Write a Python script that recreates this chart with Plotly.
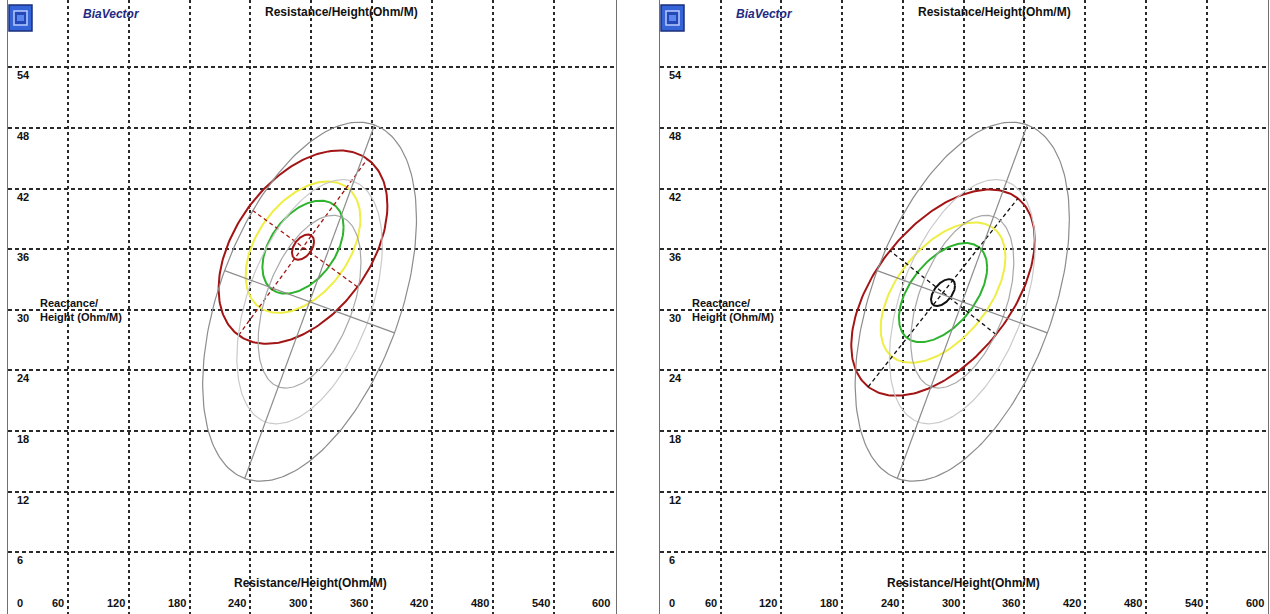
import numpy as np
import plotly.graph_objects as go

# ---------------- data ----------------
# Reference population (gray tolerance ellipses) - identical in both panels
REF_MEAN_R = 298.6
REF_MEAN_XC = 30.8
REF_SD_R = 43.2
REF_SD_XC = 7.26
REF_CORR = 0.46

# Sample groups (coloured ellipses), one per panel: [left, right]
GROUP_MEAN_R = [292.1, 279.6]
GROUP_MEAN_XC = [36.2, 31.7]
GROUP_SD_R = [34.1, 37.0]
GROUP_SD_XC = [3.91, 4.17]
GROUP_CORR = [0.43, 0.51]
GROUP_MEAN_CONF_RADIUS = [0.32, 0.32]   # confidence ellipse of the mean, in SD units
MEAN_COLORS = ["#a31515", "#111111"]

TOLERANCE_LEVELS = [0.95, 0.75, 0.50]
REF_COLORS = ["#8c8c8c", "#cacaca", "#a8a8a8"]
GROUP_COLORS = ["#a31515", "#eeee44", "#2db32d"]

X_GRID = [60, 120, 180, 240, 300, 360, 420, 480, 540]
Y_GRID = [6, 12, 18, 24, 30, 36, 42, 48, 54]
X_TICK_LABELS = ["0", "60", "120", "180", "240", "300", "360", "420", "480", "540", "600"]
X_TICK_VALUES = [0, 60, 120, 180, 240, 300, 360, 420, 480, 540, 600]
Y_TICK_LABELS = ["6", "12", "18", "24", "30", "36", "42", "48", "54"]
Y_TICK_VALUES = [6, 12, 18, 24, 30, 36, 42, 48, 54]

AXIS_TITLE = "Resistance/Height(Ohm/M)"
Y_TITLE = "Reactance/<br>Height (Ohm/M)"
BRAND = "BiaVector"

# ---------------- helpers ----------------
DISPLAY_SCALE = 10.0  # y units are displayed ~10x larger than x units


def ellipse(mx, my, sx, sy, r, k, n=200):
    t = np.linspace(0, 2 * np.pi, n)
    x = mx + k * sx * np.cos(t)
    y = my + k * sy * (r * np.cos(t) + np.sqrt(1 - r * r) * np.sin(t))
    return x, y


def axes_segments(mx, my, sx, sy, r, k):
    S = DISPLAY_SCALE
    cov = np.array([[sx * sx, r * sx * sy * S], [r * sx * sy * S, (sy * S) ** 2]])
    vals, vecs = np.linalg.eigh(cov)
    segs = []
    for i in range(2):
        v = vecs[:, i] * k * np.sqrt(vals[i])
        segs.append(([mx - v[0], mx + v[0]], [my - v[1] / S, my + v[1] / S]))
    return segs


def radius(p):
    return np.sqrt(-2 * np.log(1 - p))


fig = go.Figure()
axis_ids = [("x", "y"), ("x2", "y2")]

for g in range(2):
    xa, ya = axis_ids[g]
    # coloured tolerance ellipses of the group
    for lvl, col in zip(TOLERANCE_LEVELS, GROUP_COLORS):
        ex, ey = ellipse(GROUP_MEAN_R[g], GROUP_MEAN_XC[g], GROUP_SD_R[g], GROUP_SD_XC[g],
                         GROUP_CORR[g], radius(lvl))
        fig.add_trace(go.Scatter(x=ex, y=ey, mode="lines", line=dict(color=col, width=2),
                                 xaxis=xa, yaxis=ya, hoverinfo="skip"))
    # dashed axes of the group 95% ellipse
    for sx_, sy_ in axes_segments(GROUP_MEAN_R[g], GROUP_MEAN_XC[g], GROUP_SD_R[g],
                                  GROUP_SD_XC[g], GROUP_CORR[g], radius(0.95)):
        fig.add_trace(go.Scatter(x=sx_, y=sy_, mode="lines",
                                 line=dict(color=MEAN_COLORS[g], width=1.3, dash="4px,3px"),
                                 xaxis=xa, yaxis=ya, hoverinfo="skip"))
    # confidence ellipse of the mean
    ex, ey = ellipse(GROUP_MEAN_R[g], GROUP_MEAN_XC[g], GROUP_SD_R[g], GROUP_SD_XC[g],
                     GROUP_CORR[g], GROUP_MEAN_CONF_RADIUS[g])
    fig.add_trace(go.Scatter(x=ex, y=ey, mode="lines", line=dict(color=MEAN_COLORS[g], width=2),
                             xaxis=xa, yaxis=ya, hoverinfo="skip"))
    # reference gray ellipses
    for lvl, col in zip(TOLERANCE_LEVELS, REF_COLORS):
        ex, ey = ellipse(REF_MEAN_R, REF_MEAN_XC, REF_SD_R, REF_SD_XC, REF_CORR, radius(lvl))
        fig.add_trace(go.Scatter(x=ex, y=ey, mode="lines", line=dict(color=col, width=1.2),
                                 xaxis=xa, yaxis=ya, hoverinfo="skip"))
    for sx_, sy_ in axes_segments(REF_MEAN_R, REF_MEAN_XC, REF_SD_R, REF_SD_XC, REF_CORR,
                                  radius(0.95)):
        fig.add_trace(go.Scatter(x=sx_, y=sy_, mode="lines", line=dict(color="#8c8c8c", width=1.2),
                                 xaxis=xa, yaxis=ya, hoverinfo="skip"))

W, H = 1270, 614
panels = [(8, 616, [0.3, 601.7]), (660, 1268, [0.2, 600.4])]

layout = dict(width=W, height=H, margin=dict(l=0, r=0, t=0, b=0),
              paper_bgcolor="white", plot_bgcolor="white", showlegend=False)

for g, (p0, p1, xr) in enumerate(panels):
    sfx = "" if g == 0 else "2"
    layout["xaxis" + sfx] = dict(domain=[p0 / W, p1 / W], range=xr, tickvals=X_GRID,
                                 showticklabels=False, ticks="", showgrid=True, gridcolor="#2a2a2a",
                                 gridwidth=1.6, griddash="3px,3px", zeroline=False,
                                 showline=True, linecolor="#707070", linewidth=1,
                                 anchor="y" + sfx, fixedrange=True)
    layout["yaxis" + sfx] = dict(domain=[0, 1], range=[-0.12, 60.67], tickvals=Y_GRID,
                                 showticklabels=False, ticks="", showgrid=True, gridcolor="#2a2a2a",
                                 gridwidth=1.6, griddash="4px,3px", zeroline=False,
                                 showline=True, mirror=True, linecolor="#707070", linewidth=1,
                                 anchor="x" + sfx, fixedrange=True)

fig.update_layout(**layout)

FONT = "Liberation Sans, Arial, sans-serif"
tick_font = dict(family=FONT, size=11, color="#111111")
title_font = dict(family=FONT, size=12, color="#111111")
LEFT_X = 2  # anchor just inside the panel's left edge
ann = []
for g in range(2):
    xr, yr = ("x", "y") if g == 0 else ("x2", "y2")
    for v, lab in zip(X_TICK_VALUES, X_TICK_LABELS):
        if v == 0:
            ann.append(dict(x=LEFT_X, y=0, xref=xr, yref=yr, text="<b>%s</b>" % lab, showarrow=False,
                            xanchor="left", yanchor="bottom", xshift=5, yshift=2, font=tick_font))
        else:
            ann.append(dict(x=v, y=0, xref=xr, yref=yr, text="<b>%s</b>" % lab, showarrow=False,
                            xanchor="right", yanchor="bottom", xshift=-2, yshift=2, font=tick_font))
    for v, lab in zip(Y_TICK_VALUES, Y_TICK_LABELS):
        ann.append(dict(x=LEFT_X, y=v, xref=xr, yref=yr, text="<b>%s</b>" % lab, showarrow=False,
                        xanchor="left", yanchor="top", xshift=5, yshift=0, font=tick_font))
    ann.append(dict(x=330, y=59.5, xref=xr, yref=yr, text="<b>%s</b>" % AXIS_TITLE,
                    showarrow=False, xanchor="center", yanchor="middle", font=title_font))
    ann.append(dict(x=300, y=2.95, xref=xr, yref=yr, text="<b>%s</b>" % AXIS_TITLE,
                    showarrow=False, xanchor="center", yanchor="middle", font=title_font))
    ann.append(dict(x=30, y=30, xref=xr, yref=yr, text="<b>%s</b>" % Y_TITLE, align="left",
                    showarrow=False, xanchor="left", yanchor="middle", font=tick_font))
    ann.append(dict(x=103, y=59.3, xref=xr, yref=yr, text="<b><i>%s</i></b>" % BRAND,
                    showarrow=False, xanchor="center", yanchor="middle",
                    font=dict(family=FONT, size=12, color="#1f2a85")))

fig.update_layout(annotations=ann)

# window icon in the top-left corner of each panel
shapes = []
for p0 in (9, 661):
    def px(x):
        return x / W

    def py(y):
        return 1 - y / H
    shapes.append(dict(type="rect", xref="paper", yref="paper", x0=px(p0), x1=px(p0 + 23),
                       y0=py(31), y1=py(5), fillcolor="#3563d8", line=dict(color="#1a2f7a", width=1.5)))
    shapes.append(dict(type="rect", xref="paper", yref="paper", x0=px(p0 + 5), x1=px(p0 + 18),
                       y0=py(25), y1=py(11), fillcolor="#2448b8", line=dict(color="#b9ccff", width=1.5)))
    shapes.append(dict(type="rect", xref="paper", yref="paper", x0=px(p0 + 8), x1=px(p0 + 15),
                       y0=py(21), y1=py(15), fillcolor="#5b86ee", line=dict(color="#5b86ee", width=0)))
fig.update_layout(shapes=shapes)

fig.write_html("out.html", config={"displayModeBar": False},
               post_script="document.body.style.margin='0';")
